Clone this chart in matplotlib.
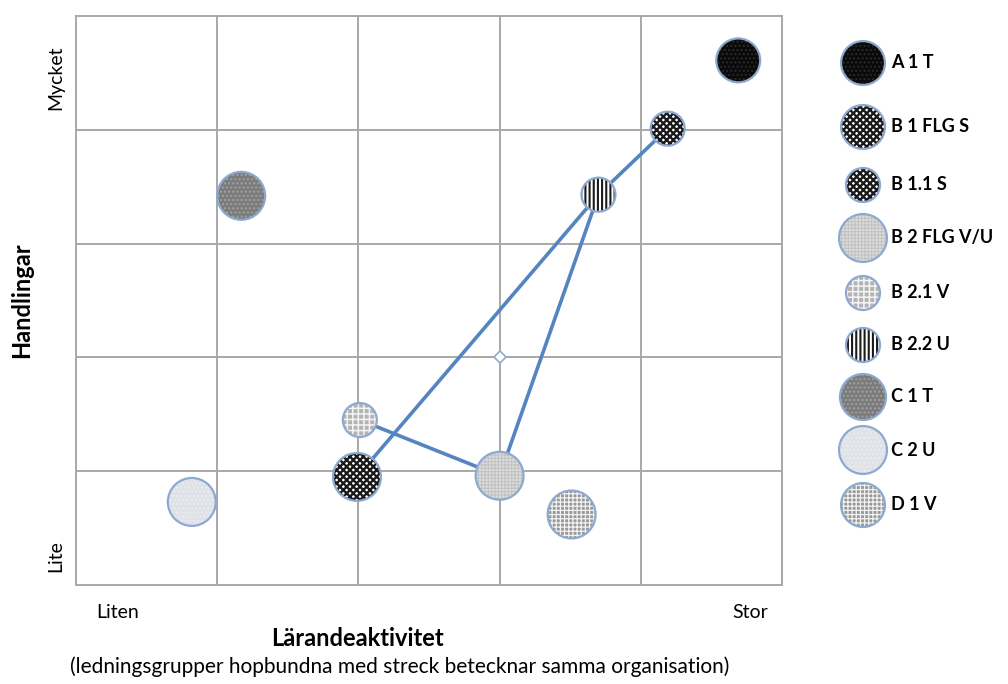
import matplotlib
matplotlib.use("Agg")
import matplotlib.pyplot as plt

plt.rcParams['font.family'] = ['Lato', 'DejaVu Sans']

# data
labels = ["A 1 T", "B 1 FLG S", "B 1.1 S", "B 2 FLG V/U", "B 2.1 V",
          "B 2.2 U", "C 1 T", "C 2 U", "D 1 V"]
x_vals = [4.69, 1.99, 4.19, 3.00, 2.01, 3.70, 1.17, 0.82, 3.51]
y_vals = [4.61, 0.95, 4.01, 0.96, 1.45, 3.43, 3.42, 0.73, 0.62]
sizes = [1000, 1190, 600, 1190, 600, 600, 1190, 1190, 1190]
legend_sizes = [1000, 1000, 600, 1190, 600, 600, 1100, 1190, 1000]

# (face, hatch colour, hatch, hatch line width)
styles = [
    ('#0a0a0a', '#2a2a2a', '....', 1.0),
    ('#ffffff', '#1a1a1a', 'xxxxx', 1.7),
    ('#ffffff', '#1a1a1a', 'xxxxx', 1.7),
    ('#dedede', '#c2c2c2', '+++++', 0.8),
    ('#b4b4b4', '#f4f4f4', '+++', 1.1),
    ('#ffffff', '#1a1a1a', '||||', 1.5),
    ('#7b7b7b', '#a0a0a0', '....', 1.0),
    ('#dfe2e7', '#e9ecf0', '....', 1.0),
    ('#999999', '#f2f2f2', '++++', 0.9),
]
edge_blue = '#8ea9d0'

# organisation links (indices into the lists)
link_1 = [1, 5, 2]
link_2 = [5, 3, 4]
center_x, center_y = [3.0], [2.0]


def bubble(axis, x, y, s, style):
    fc, hc, h, hlw = style
    with plt.rc_context({'hatch.linewidth': hlw}):
        axis.scatter([x], [y], s=s, facecolor=fc, edgecolor=hc, hatch=h,
                     linewidths=0, zorder=3)
    axis.scatter([x], [y], s=s, facecolor='none', edgecolor=edge_blue,
                 linewidths=1.6, zorder=4)


fig = plt.figure(figsize=(10.08, 6.84), dpi=100)
ax = fig.add_axes([0.0754, 0.1447, 0.7004, 0.8319])
ax.set_xlim(0, 5)
ax.set_ylim(0, 5)
ax.set_xticks([1, 2, 3, 4])
ax.set_yticks([1, 2, 3, 4])
ax.tick_params(length=0, labelbottom=False, labelleft=False)
ax.grid(True, color='#a8a8a8', lw=1.4)
ax.set_axisbelow(True)
for sp in ax.spines.values():
    sp.set_color('#a8a8a8')
    sp.set_linewidth(1.4)

for link in (link_1, link_2):
    ax.plot([x_vals[i] for i in link], [y_vals[i] for i in link],
            color='#5585c0', lw=2.6, zorder=2, solid_capstyle='round')

ax.plot(center_x, center_y, marker='D', markersize=6, color='white',
        markeredgecolor=edge_blue, markeredgewidth=1.2, zorder=2)

for i, st in enumerate(styles):
    bubble(ax, x_vals[i], y_vals[i], sizes[i], st)

# axis text
fig.text(118 / 1008, 1 - 612 / 684, 'Liten', ha='center', va='center', fontsize=14)
fig.text(750 / 1008, 1 - 612 / 684, 'Stor', ha='center', va='center', fontsize=14)
fig.text(56 / 1008, 1 - 78 / 684, 'Mycket', ha='center', va='center',
         fontsize=14, rotation=90)
fig.text(56 / 1008, 1 - 556 / 684, 'Lite', ha='center', va='center',
         fontsize=14, rotation=90)
fig.text(22 / 1008, 1 - 300 / 684, 'Handlingar', ha='center', va='center',
         fontsize=17, fontweight='bold', rotation=90)
fig.text(357 / 1008, 1 - 639 / 684, 'Lärandeaktivitet', ha='center', va='center',
         fontsize=17, fontweight='bold')
fig.text(400 / 1008, 1 - 667 / 684,
         '(ledningsgrupper hopbundna med streck betecknar samma organisation)',
         ha='center', va='center', fontsize=15)

# legend column
lax = fig.add_axes([0, 0, 1, 1], facecolor='none')
lax.set_xlim(0, 1008)
lax.set_ylim(684, 0)
lax.axis('off')
leg_rows = [63, 127, 185, 238, 293, 345, 397, 450, 505]
for i, st in enumerate(styles):
    bubble(lax, 863, leg_rows[i], legend_sizes[i], st)
    lax.text(891, leg_rows[i], labels[i], ha='left', va='center',
             fontsize=13, fontweight='bold')

fig.savefig('out.png', dpi=100, facecolor='white')
